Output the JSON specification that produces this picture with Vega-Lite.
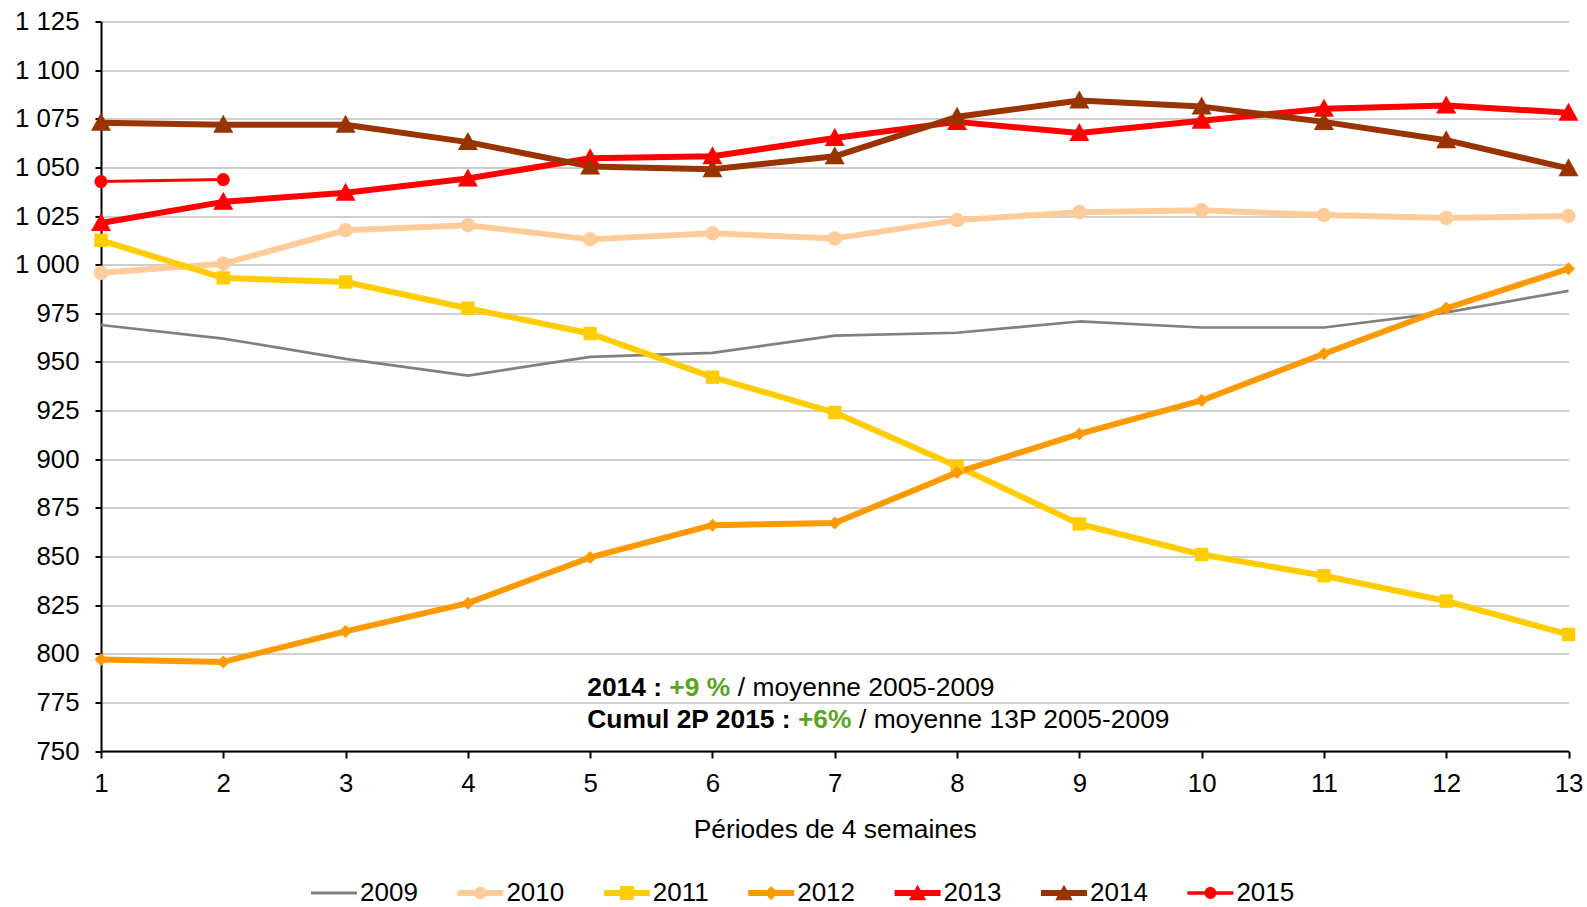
{
  "$schema": "https://vega.github.io/schema/vega-lite/v6.json",
  "width": 1467.5,
  "height": 729.5,
  "autosize": {"type": "none"},
  "padding": {"left": 101, "top": 21.5, "right": 18.5, "bottom": 156},
  "background": "white",
  "config": {
    "view": {"stroke": null},
    "font": "Liberation Sans",
    "text": {"font": "Liberation Sans"}
  },
  "data": {
    "values": [
      {"year": "2009", "period": 1, "value": 969},
      {"year": "2009", "period": 2, "value": 962},
      {"year": "2009", "period": 3, "value": 951.6},
      {"year": "2009", "period": 4, "value": 943},
      {"year": "2009", "period": 5, "value": 952.6},
      {"year": "2009", "period": 6, "value": 954.7},
      {"year": "2009", "period": 7, "value": 963.5},
      {"year": "2009", "period": 8, "value": 965},
      {"year": "2009", "period": 9, "value": 970.8},
      {"year": "2009", "period": 10, "value": 967.7},
      {"year": "2009", "period": 11, "value": 967.7},
      {"year": "2009", "period": 12, "value": 975.5},
      {"year": "2009", "period": 13, "value": 986.5},
      {"year": "2010", "period": 1, "value": 995.8},
      {"year": "2010", "period": 2, "value": 1000.5},
      {"year": "2010", "period": 3, "value": 1017.7},
      {"year": "2010", "period": 4, "value": 1020.3},
      {"year": "2010", "period": 5, "value": 1013},
      {"year": "2010", "period": 6, "value": 1016.1},
      {"year": "2010", "period": 7, "value": 1013.5},
      {"year": "2010", "period": 8, "value": 1022.9},
      {"year": "2010", "period": 9, "value": 1027},
      {"year": "2010", "period": 10, "value": 1028},
      {"year": "2010", "period": 11, "value": 1025.5},
      {"year": "2010", "period": 12, "value": 1024},
      {"year": "2010", "period": 13, "value": 1025},
      {"year": "2011", "period": 1, "value": 1012.5},
      {"year": "2011", "period": 2, "value": 993.2},
      {"year": "2011", "period": 3, "value": 991.1},
      {"year": "2011", "period": 4, "value": 977.6},
      {"year": "2011", "period": 5, "value": 964.6},
      {"year": "2011", "period": 6, "value": 942.2},
      {"year": "2011", "period": 7, "value": 924},
      {"year": "2011", "period": 8, "value": 896.4},
      {"year": "2011", "period": 9, "value": 866.7},
      {"year": "2011", "period": 10, "value": 851},
      {"year": "2011", "period": 11, "value": 840.1},
      {"year": "2011", "period": 12, "value": 827.1},
      {"year": "2011", "period": 13, "value": 809.9},
      {"year": "2012", "period": 1, "value": 797},
      {"year": "2012", "period": 2, "value": 795.8},
      {"year": "2012", "period": 3, "value": 811.5},
      {"year": "2012", "period": 4, "value": 826},
      {"year": "2012", "period": 5, "value": 849.5},
      {"year": "2012", "period": 6, "value": 866.1},
      {"year": "2012", "period": 7, "value": 867.2},
      {"year": "2012", "period": 8, "value": 893.2},
      {"year": "2012", "period": 9, "value": 913},
      {"year": "2012", "period": 10, "value": 930.2},
      {"year": "2012", "period": 11, "value": 954.2},
      {"year": "2012", "period": 12, "value": 977.6},
      {"year": "2012", "period": 13, "value": 997.9},
      {"year": "2013", "period": 1, "value": 1021.4},
      {"year": "2013", "period": 2, "value": 1032.3},
      {"year": "2013", "period": 3, "value": 1037},
      {"year": "2013", "period": 4, "value": 1044.3},
      {"year": "2013", "period": 5, "value": 1054.7},
      {"year": "2013", "period": 6, "value": 1055.7},
      {"year": "2013", "period": 7, "value": 1065.1},
      {"year": "2013", "period": 8, "value": 1073.4},
      {"year": "2013", "period": 9, "value": 1067.7},
      {"year": "2013", "period": 10, "value": 1074},
      {"year": "2013", "period": 11, "value": 1080.2},
      {"year": "2013", "period": 12, "value": 1081.8},
      {"year": "2013", "period": 13, "value": 1078.1},
      {"year": "2014", "period": 1, "value": 1072.9},
      {"year": "2014", "period": 2, "value": 1071.9},
      {"year": "2014", "period": 3, "value": 1071.9},
      {"year": "2014", "period": 4, "value": 1063},
      {"year": "2014", "period": 5, "value": 1050.5},
      {"year": "2014", "period": 6, "value": 1049},
      {"year": "2014", "period": 7, "value": 1055.7},
      {"year": "2014", "period": 8, "value": 1076},
      {"year": "2014", "period": 9, "value": 1084.4},
      {"year": "2014", "period": 10, "value": 1081.25},
      {"year": "2014", "period": 11, "value": 1073.4},
      {"year": "2014", "period": 12, "value": 1064},
      {"year": "2014", "period": 13, "value": 1049.5},
      {"year": "2015", "period": 1, "value": 1042.7},
      {"year": "2015", "period": 2, "value": 1043.75}
    ]
  },
  "encoding": {
    "x": {
      "field": "period",
      "type": "quantitative",
      "scale": {"domain": [1, 13], "nice": false, "zero": false},
      "axis": {
        "values": [1, 2, 3, 4, 5, 6, 7, 8, 9, 10, 11, 12, 13],
        "title": "Périodes de 4 semaines",
        "grid": false,
        "domainColor": "black",
        "domainWidth": 2,
        "tickColor": "black",
        "tickWidth": 2,
        "tickSize": 7,
        "labelFontSize": 25.8,
        "labelFont": "Liberation Sans",
        "labelColor": "black",
        "labelPadding": 13,
        "labelFlush": false,
        "labelOverlap": false,
        "titleFont": "Liberation Sans",
        "titleFontSize": 26.4,
        "titleFontWeight": "normal",
        "titleColor": "black",
        "titlePadding": 21
      }
    },
    "y": {
      "field": "value",
      "type": "quantitative",
      "scale": {"domain": [750, 1125], "nice": false, "zero": false},
      "axis": {
        "values": [750, 775, 800, 825, 850, 875, 900, 925, 950, 975, 1000, 1025, 1050, 1075, 1100, 1125],
        "title": null,
        "labelExpr": "replace(format(datum.value, ','), ',', ' ')",
        "grid": true,
        "gridColor": "#BFBFBF",
        "gridWidth": 1.4,
        "domainColor": "black",
        "domainWidth": 2,
        "tickColor": "black",
        "tickWidth": 2,
        "tickSize": 6,
        "labelFontSize": 25.8,
        "labelFont": "Liberation Sans",
        "labelColor": "black",
        "labelPadding": 16,
        "labelOverlap": false
      }
    }
  },
  "layer": [
    {
      "mark": {"type": "line", "strokeJoin": "round"},
      "encoding": {
        "color": {
          "field": "year",
          "type": "nominal",
          "scale": {
            "domain": ["2009", "2010", "2011", "2012", "2013", "2014", "2015"],
            "range": ["#808080", "#FFCC99", "#FFCC00", "#FF9900", "#FF0000", "#993300", "#FF0000"]
          },
          "legend": {
            "orient": "none",
            "legendX": 210,
            "legendY": 848.5,
            "direction": "horizontal",
            "columns": 7,
            "columnPadding": 39.4,
            "title": null,
            "padding": 0,
            "symbolSize": 2116,
            "labelFontSize": 26,
            "labelFont": "Liberation Sans",
            "labelColor": "black",
            "labelOffset": 3,
            "encode": {
              "symbols": {
                "update": {
                  "shape": {"signal": "{'2009': 'M-1,-0.065L1,-0.065L1,0.065L-1,0.065Z', '2010': 'M-1,-0.13L1,-0.13L1,0.13L-1,0.13Z M-0.27,0A0.27,0.27 0 1,1 0.27,0A0.27,0.27 0 1,1 -0.27,0Z', '2011': 'M-1,-0.13L1,-0.13L1,0.13L-1,0.13Z M-0.3,-0.3L0.3,-0.3L0.3,0.3L-0.3,0.3Z', '2012': 'M-1,-0.13L1,-0.13L1,0.13L-1,0.13Z M0,-0.3L0.3,0L0,0.3L-0.3,0Z', '2013': 'M-1,-0.13L1,-0.13L1,0.13L-1,0.13Z M0,-0.36L0.38,0.32L-0.38,0.32Z', '2014': 'M-1,-0.13L1,-0.13L1,0.13L-1,0.13Z M0,-0.36L0.38,0.32L-0.38,0.32Z', '2015': 'M-1,-0.08L1,-0.08L1,0.08L-1,0.08Z M-0.26,0A0.26,0.26 0 1,1 0.26,0A0.26,0.26 0 1,1 -0.26,0Z'}[datum.value]"},
                  "fill": {"scale": "color", "field": "value"},
                  "stroke": {"value": "transparent"},
                  "strokeWidth": {"value": 0},
                  "opacity": {"value": 1}
                }
              }
            }
          }
        },
        "strokeWidth": {
          "condition": [
            {"test": "datum.year === '2009'", "value": 2.7},
            {"test": "datum.year === '2015'", "value": 3}
          ],
          "value": 6
        }
      }
    },
    {
      "transform": [{"filter": "datum.year !== '2009'"}],
      "mark": {"type": "point", "filled": true, "opacity": 1, "strokeWidth": 0},
      "encoding": {
        "color": {"field": "year", "type": "nominal", "legend": null},
        "shape": {
          "field": "year",
          "type": "nominal",
          "legend": null,
          "scale": {
            "domain": ["2010", "2011", "2012", "2013", "2014", "2015"],
            "range": ["circle", "square", "diamond", "M0,-1L1,0.8L-1,0.8Z", "M0,-1L1,0.8L-1,0.8Z", "circle"]
          }
        },
        "size": {
          "condition": [
            {"test": "datum.year === '2011'", "value": 180},
            {"test": "datum.year === '2012'", "value": 170},
            {"test": "datum.year === '2013' || datum.year === '2014'", "value": 400},
            {"test": "datum.year === '2015'", "value": 170}
          ],
          "value": 210
        }
      }
    },
    {
      "data": {
        "values": [
          {"x": 4.976, "y": 778.1, "t": "2014 :"},
          {"x": 4.976, "y": 761.8, "t": "Cumul 2P 2015 :"}
        ]
      },
      "mark": {"type": "text", "align": "left", "baseline": "alphabetic", "fontSize": 26.4, "fontWeight": "bold", "color": "black", "font": "Liberation Sans"},
      "encoding": {
        "x": {"field": "x", "type": "quantitative"},
        "y": {"field": "y", "type": "quantitative"},
        "text": {"field": "t"}
      }
    },
    {
      "data": {
        "values": [
          {"x": 5.647, "y": 778.1, "t": "+9 %"},
          {"x": 6.699, "y": 761.8, "t": "+6%"}
        ]
      },
      "mark": {"type": "text", "align": "left", "baseline": "alphabetic", "fontSize": 26.4, "fontWeight": "bold", "color": "#5AA51E", "font": "Liberation Sans"},
      "encoding": {
        "x": {"field": "x", "type": "quantitative"},
        "y": {"field": "y", "type": "quantitative"},
        "text": {"field": "t"}
      }
    },
    {
      "data": {
        "values": [
          {"x": 6.207, "y": 778.1, "t": "/ moyenne 2005-2009"},
          {"x": 7.198, "y": 761.8, "t": "/ moyenne 13P 2005-2009"}
        ]
      },
      "mark": {"type": "text", "align": "left", "baseline": "alphabetic", "fontSize": 26.4, "fontWeight": "normal", "color": "black", "font": "Liberation Sans"},
      "encoding": {
        "x": {"field": "x", "type": "quantitative"},
        "y": {"field": "y", "type": "quantitative"},
        "text": {"field": "t"}
      }
    }
  ]
}
